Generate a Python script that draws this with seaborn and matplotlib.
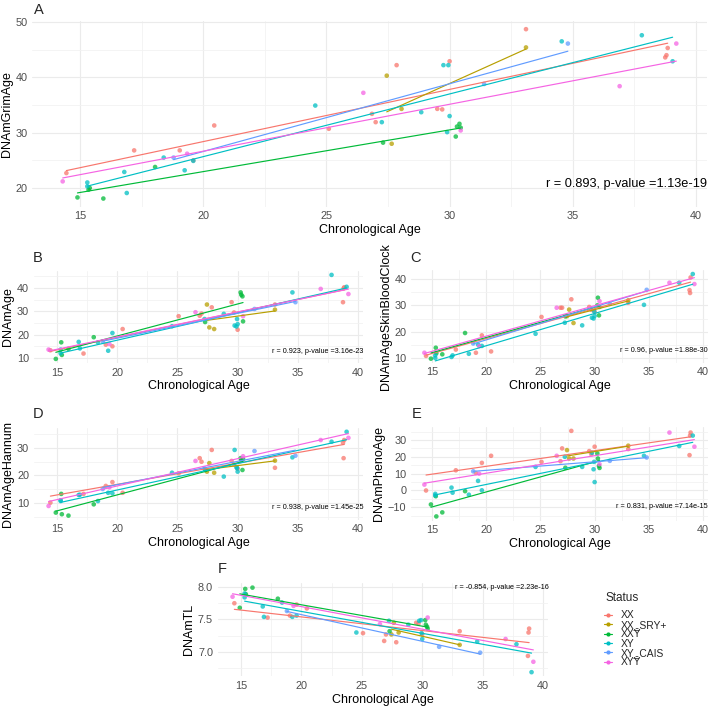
import matplotlib
matplotlib.use('Agg')

import matplotlib.pyplot as plt
from matplotlib.lines import Line2D
from matplotlib.ticker import MultipleLocator
import pandas as pd
import seaborn as sns

sns.set_theme(style='whitegrid')
plt.rcParams['font.family'] = ['Liberation Sans', 'DejaVu Sans']

status_order = ['XX', 'XX_SRY+', 'XXȲ', 'XY', 'XY_CAIS', 'XYȲ']
palette = ['#F8766D', '#B79F00', '#00BA38', '#00BFC4', '#619CFF', '#F564E3']
group_sizes = [16, 4, 10, 17, 3, 6]

age = [14.45, 17.2, 19.05, 19.6, 20.45, 25.1, 26.85, 27.0, 27.85, 29.5, 29.7, 30.0, 33.1, 38.75, 38.8, 38.85,
       27.45, 27.65, 28.05, 33.1,
       14.9, 15.35, 15.4, 15.95, 18.05, 27.3, 30.25, 30.3, 30.4, 30.45,
       15.3, 15.3, 16.8, 16.9, 18.4, 19.25, 19.6, 24.55, 27.25, 28.85, 29.75, 29.95, 30.0, 29.9, 34.55, 37.8, 39.05,
       18.8, 31.4, 34.8,
       14.3, 19.35, 26.5, 30.45, 36.9, 39.2]

grim_age = [22.7, 26.8, 26.8, 25.0, 31.3, 30.7, 33.4, 31.9, 42.2, 34.3, 34.2, 42.9, 48.7, 43.6, 44.0, 45.3,
            40.3, 28.0, 34.3, 45.4,
            18.3, 19.7, 20.0, 18.1, 23.8, 28.2, 29.3, 31.1, 31.6, 30.9,
            21.0, 20.3, 22.9, 19.1, 25.5, 23.2, 24.9, 34.9, 31.9, 33.7, 42.2, 42.2, 33.0, 30.1, 46.5, 47.6, 42.9,
            25.5, 38.8, 46.1,
            21.2, 26.2, 37.2, 30.4, 38.4, 46.1]

dnam_age = [13.3, 11.9, 15.7, 15.0, 22.4, 27.9, 28.1, 29.0, 31.7, 33.9, 29.5, 22.1, 32.9, 33.9, 39.8, 40.3,
            32.9, 23.1, 22.4, 30.7,
            9.6, 16.7, 11.3, 13.9, 18.9, 25.4, 38.1, 37.1, 36.4, 25.7,
            13.6, 12.0, 16.9, 14.1, 16.7, 13.1, 20.7, 23.6, 26.7, 28.9, 23.9, 26.7, 24.5, 23.5, 38.1, 45.6, 40.5,
            17.1, 31.0, 33.9,
            13.6, 16.0, 29.6, 27.9, 39.6, 37.4]

skin_blood = [10.8, 13.2, 12.0, 18.6, 12.5, 25.6, 29.1, 29.1, 32.3, 29.4, 28.3, 27.5, 31.0, 35.8, 34.7, 40.6,
              25.9, 28.4, 23.3, 31.9,
              9.75, 13.9, 11.8, 11.4, 19.5, 25.8, 30.0, 32.9, 26.2, 29.4,
              10.0, 11.0, 10.4, 11.0, 11.6, 15.1, 14.6, 19.2, 23.4, 22.4, 25.3, 27.8, 26.0, 25.0, 30.2, 38.6, 41.9,
              15.5, 30.6, 35.9,
              12.0, 14.5, 29.1, 31.6, 38.6, 38.1]

hannum = [10.1, 13.3, 16.2, 17.6, 13.7, 20.8, 26.3, 25.0, 29.3, 25.3, 24.0, 22.5, 22.8, 31.9, 26.3, 32.9,
          21.4, 24.5, 21.0, 25.4,
          6.5, 13.3, 5.9, 5.4, 9.5, 22.0, 26.3, 25.6, 22.0, 26.0,
          10.7, 11.0, 12.9, 13.0, 10.7, 13.7, 13.5, 21.0, 22.5, 19.6, 29.3, 22.7, 21.4, 23.0, 26.6, 32.3, 35.9,
          15.1, 28.9, 27.2,
          8.9, 15.7, 25.3, 27.0, 32.9, 33.7]

pheno_age = [0.0, 12.0, 10.4, 16.4, 20.6, 17.0, 17.4, 25.0, 35.4, 23.4, 21.5, 26.0, 24.6, 21.0, 32.6, 34.4,
             24.0, 19.0, 19.0, 26.6,
             -8.3, -3.4, -15.4, -13.0, -0.4, 13.5, 22.0, 19.0, 14.6, 13.4,
             -3.0, -2.0, 1.7, -1.3, -2.5, 5.7, 0.1, 14.0, 20.0, 14.0, 22.4, 17.0, 5.0, 12.6, 20.6, 26.4, 32.6,
             11.4, 17.6, 19.6,
             3.5, 10.0, 20.6, 15.6, 34.4, 26.0]

telomere = [7.75, 7.53, 7.56, 7.73, 7.67, 7.29, 7.17, 7.27, 7.15, 7.45, 7.44, 7.27, 7.32, 6.94, 7.30, 7.36,
            7.27, 7.45, 7.30, 7.11,
            7.68, 7.97, 7.89, 7.99, 7.82, 7.32, 7.49, 7.42, 7.39, 7.36,
            7.84, 7.90, 7.70, 7.54, 7.76, 7.54, 7.56, 7.30, 7.48, 7.42, 7.48, 7.29, 7.20, 7.49, 7.16, 7.12, 6.69,
            7.63, 7.08, 6.99,
            7.85, 7.71, 7.43, 7.53, 7.20, 6.85]

ylabels = ['DNAmGrimAge', 'DNAmAge', 'DNAmAgeSkinBloodClock', 'DNAmAgeHannum', 'DNAmPhenoAge', 'DNAmTL']
tags = ['A', 'B', 'C', 'D', 'E', 'F']
stats = ['r = 0.893, p-value =1.13e-19', 'r = 0.923, p-value =3.16e-23', 'r = 0.96, p-value =1.88e-30',
         'r = 0.938, p-value =1.45e-25', 'r = 0.831, p-value =7.14e-15', 'r = -0.854, p-value =2.23e-16']

status = [s for s, n in zip(status_order, group_sizes) for _ in range(n)]
df = pd.DataFrame({'age': age, 'Status': status, 'DNAmGrimAge': grim_age, 'DNAmAge': dnam_age,
                   'DNAmAgeSkinBloodClock': skin_blood, 'DNAmAgeHannum': hannum,
                   'DNAmPhenoAge': pheno_age, 'DNAmTL': telomere})
colors = dict(zip(status_order, palette))

W, H = 709, 708


def px_rect(left, top, right, bottom):
    return [left / W, 1 - bottom / H, (right - left) / W, (bottom - top) / H]


def expand(values):
    lo, hi = min(values), max(values)
    pad = 0.05 * (hi - lo)
    return lo - pad, hi + pad


# layout: panel rect in pixels, y tick step, stat text size, stat y (axes frac), tag position
layout = [
    (px_rect(32, 20.7, 707, 207), 10, 9.2, 0.125, (34, 3)),
    (px_rect(33.6, 270.7, 363.4, 363.1), 10, 5.2, 0.13, (33, 251)),
    (px_rect(410.9, 269.8, 707.9, 362.9), 10, 5.2, 0.128, (410, 251)),
    (px_rect(33.6, 427.6, 363.4, 519.8), 10, 5.2, 0.128, (33, 407)),
    (px_rect(410.9, 426.6, 707.9, 520.7), 10, 5.2, 0.146, (412, 407)),
    (px_rect(217.5, 583.4, 548.4, 676.4), 0.5, 5.2, 0.96, (218, 562)),
]

fig = plt.figure(figsize=(W / 100, H / 100), dpi=100)
fig.patch.set_facecolor('white')

for col, tag, stat, (rect, ystep, ssize, sy, tpos) in zip(ylabels, tags, stats, layout):
    ax = fig.add_axes(rect)
    ax.set_facecolor('white')
    sns.scatterplot(data=df, x='age', y=col, hue='Status', hue_order=status_order,
                    palette=palette, s=11, alpha=0.75, linewidth=0, legend=False, ax=ax)
    for s in status_order:
        sub = df[df['Status'] == s]
        sns.regplot(data=sub, x='age', y=col, scatter=False, ci=None, truncate=True,
                    color=colors[s], line_kws={'lw': 0.85}, ax=ax)
    ax.set_xlim(*expand(df['age']))
    ax.set_ylim(*expand(df[col]))
    ax.xaxis.set_major_locator(MultipleLocator(5))
    ax.xaxis.set_minor_locator(MultipleLocator(2.5))
    ax.yaxis.set_major_locator(MultipleLocator(ystep))
    ax.yaxis.set_minor_locator(MultipleLocator(ystep / 2))
    ax.grid(which='major', color='#EBEBEB', lw=0.8)
    ax.grid(which='minor', color='#F2F2F2', lw=0.6)
    ax.set_axisbelow(True)
    for sp in ax.spines.values():
        sp.set_visible(False)
    ax.tick_params(which='both', length=0, pad=3.2, labelsize=7.8, labelcolor='#4D4D4D')
    ax.set_xlabel('Chronological Age', fontsize=9, color='black', labelpad=2)
    ax.set_ylabel(col, fontsize=9, color='black', labelpad=2)
    ax.text(1.0, sy, stat, transform=ax.transAxes, ha='right', va='center',
            fontsize=ssize, color='black')
    fig.text(tpos[0] / W, 1 - tpos[1] / H, tag, fontsize=10.5, ha='left', va='top')

# legend: title as its own text, keys below it
fig.text(606 / W, 1 - 598 / H, 'Status', fontsize=8.5, ha='left', va='center')
handles = [Line2D([0], [0], color=c, lw=0.85, marker='o', markersize=3, markeredgewidth=0)
           for c in palette]
fig.legend(handles, status_order, loc='upper left',
           bbox_to_anchor=(604 / W, 1 - 610.5 / H), frameon=False, fontsize=7.4,
           handlelength=0.8, handletextpad=0.8, labelspacing=-0.06,
           borderpad=0, borderaxespad=0)

fig.savefig('out.png', dpi=100)
